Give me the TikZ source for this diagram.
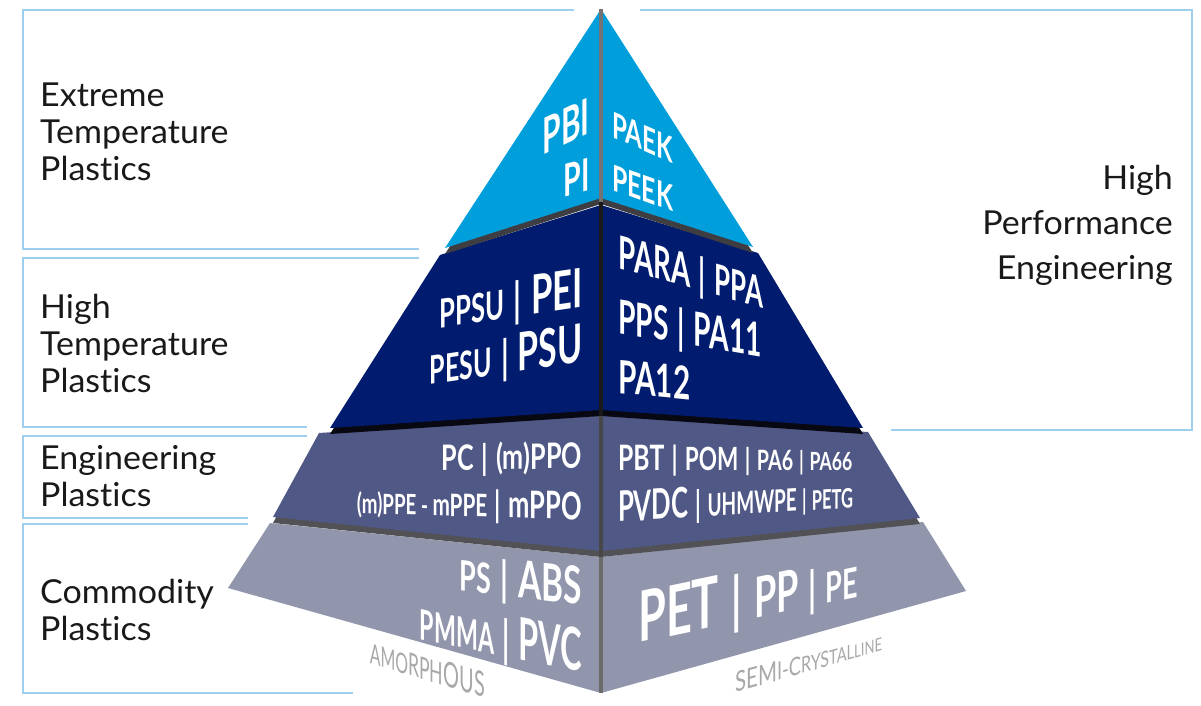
\documentclass[tikz,border=0pt]{standalone}
\usepackage{fontspec}
\setmainfont{Lato}[Ligatures=NoCommon, FakeStretch=1.03]
\usepackage{graphicx}
\definecolor{framec}{RGB}{158,207,239}
\definecolor{labc}{RGB}{25,25,25}
\definecolor{tone}{RGB}{0,158,219}
\definecolor{ttwo}{RGB}{1,28,110}
\definecolor{tthree}{RGB}{80,88,134}
\definecolor{tfour}{RGB}{145,150,172}
\definecolor{shone}{RGB}{62,62,66}
\definecolor{shtwo}{RGB}{8,8,18}
\definecolor{shthree}{RGB}{82,82,86}
\definecolor{graytxt}{RGB}{168,168,170}
\newsavebox\fitbox
\newcommand\fitw[2]{\sbox\fitbox{#2}\pgfmathsetmacro\fitr{#1/\the\wd\fitbox}\scalebox{\fitr}[1]{\usebox\fitbox}}
\newcommand\fs[2]{{\fontsize{#1}{#1}\selectfont #2}}
\newcommand\sepbar[1]{{\fontsize{#1}{#1}\selectfont\hspace{0.32em}|\hspace{0.32em}}}
\newcommand\slnode[7][ptext]{%
  \begin{scope}[shift={(#3,#4)},yslant=#5]
    \node[#1,anchor=#6] (#2) at (0,0) {#7};
  \end{scope}}
\tikzset{
  frame/.style={draw=framec, line width=2pt},
  lab/.style={inner sep=0pt, align=left, anchor=north west, text=labc, font=\fontsize{33}{37}\selectfont},
  ptext/.style={transform shape, inner sep=0pt, text=white, font=\bfseries},
  gtext/.style={transform shape, inner sep=0pt, text=graytxt},
  axis/.style={line width=4pt},
}
\begin{document}
\begin{tikzpicture}[x=1pt,y=1pt]
\useasboundingbox (0,0) rectangle (1201,705);
% frames
\draw[frame] (574,695) -- (23,695) -- (23,456) -- (419,456);
\draw[frame] (419,447) -- (23,447) -- (23,278) -- (307,278);
\draw[frame] (307,269) -- (23,269) -- (23,187) -- (248,187);
\draw[frame] (248,181) -- (23,181) -- (23,12) -- (353,12);
\draw[frame] (640,695) -- (1192,695) -- (1192,275) -- (891,275);
% labels
\node[lab] (ext) at (40,622) {Extreme\\Temperature\\Plastics};
\node[lab] (hit) at (40,411) {High\\Temperature\\Plastics};
\node[lab] (eng) at (40,260) {Engineering\\Plastics};
\node[lab] (com) at (40,126) {Commodity\\Plastics};
\node[lab, align=right, anchor=north east, font=\fontsize{33}{45}\selectfont] (hpe) at (1173,540) {High\\Performance\\Engineering};
% tier 4
\fill[tfour] (270,182) -- (601,148) -- (923,183) -- (966,114) -- (601,12) -- (228,117) -- cycle;
% tier 3
\fill[shthree, yshift=-6pt] (319,272) -- (601,290) -- (868,273) -- (920,187) -- (601,154) -- (273,188) -- cycle;
\fill[tthree] (319,272) -- (601,290) -- (868,273) -- (920,187) -- (601,154) -- (273,188) -- cycle;
% tier 2
\fill[shtwo, yshift=-6pt] (440,450) -- (601,500) -- (758,452) -- (863,277) -- (601,295) -- (330,277) -- cycle;
\fill[ttwo] (440,450) -- (601,500) -- (758,452) -- (863,277) -- (601,295) -- (330,277) -- cycle;
% tier 1
\fill[shone, yshift=-6pt] (601,696) -- (753,458) -- (601,507) -- (445,457) -- cycle;
\fill[tone] (601,696) -- (753,458) -- (601,507) -- (445,457) -- cycle;
% centre edge
\draw[axis, draw=black!55] (601,696) -- (601,503);
\draw[axis, draw=black!90] (601,503) -- (601,289);
\draw[axis, draw=black!72] (601,289) -- (601,148);
\draw[axis, draw=black!58] (601,148) -- (601,12);
% tier 1 texts
\slnode{pbi}{590}{572}{0.47}{base east}{\fitw{47}{\fs{50}{PBI}}}
\slnode{pi}{590}{515}{0.27}{base east}{\fitw{26}{\fs{45}{PI}}}
\slnode{paek}{612}{568}{-0.43}{base west}{\fitw{61}{\fs{36}{PAEK}}}
\slnode{peek}{612}{515}{-0.36}{base west}{\fitw{61}{\fs{36}{PEEK}}}
% tier 2 texts
\slnode{ppsu}{583}{398}{0.147}{base east}{\fitw{143}{\fs{40}{PPSU}\sepbar{47}\fs{54}{PEI}}}
\slnode{pesu}{583}{343}{0.15}{base east}{\fitw{153}{\fs{39}{PESU}\sepbar{46}\fs{53}{PSU}}}
\slnode{para}{618}{437}{-0.28}{base west}{\fitw{145}{\fs{46}{PARA}\sepbar{45}\fs{43}{PPA}}}
\slnode{pps}{618}{372}{-0.17}{base west}{\fitw{144}{\fs{47}{PPS}\sepbar{47}\fs{47}{PA11}}}
\slnode{pat}{618}{312}{-0.1}{base west}{\fitw{72}{\fs{46}{PA12}}}
% tier 3 texts
\slnode{pc}{582}{237}{0.02}{base east}{\fitw{140}{\fs{35}{PC}\sepbar{35}\fs{35}{(m)PPO}}}
\slnode{mppe}{582}{185}{-0.03}{base east}{\fitw{225}{\fs{28}{(m)PPE - }\fs{31}{mPPE}\sepbar{36}\fs{38}{mPPO}}}
\slnode{pbt}{618}{235}{0}{base west}{\fitw{234}{\fs{35}{PBT}\sepbar{33}\fs{32}{POM}\sepbar{30}\fs{28}{PA6}\sepbar{26}\fs{25}{PA66}}}
\slnode{pvdc}{618}{183}{0.06}{base west}{\fitw{235}{\fs{42}{PVDC}\sepbar{36}\fs{31}{UHMWPE}\sepbar{28}\fs{27}{PETG}}}
% tier 4 texts
\slnode{ps}{582}{100}{-0.12}{base east}{\fitw{122}{\fs{42}{PS}\sepbar{47}\fs{52}{ABS}}}
\slnode{pmma}{582}{33}{-0.2}{base east}{\fitw{162}{\fs{42}{PMMA}\sepbar{50}\fs{59}{PVC}}}
\slnode{pet}{638}{62}{0.21}{base west}{\fitw{220}{\fs{70}{PET}\sepbar{62}\fs{56}{PP}\sepbar{48}\fs{42}{PE}}}
\slnode[gtext]{amor}{485}{7}{-0.30}{base east}{\fitw{115}{\fs{28}{AMO}\fs{31}{RPH}\fs{35}{OUS}}}
\slnode[gtext]{semi}{735}{12}{0.29}{base west}{\fitw{147}{\fs{28}{SEM}\fs{25}{I-C}\fs{22}{RYS}\fs{20}{TAL}\fs{18}{LINE}}}
\end{tikzpicture}
\end{document}
